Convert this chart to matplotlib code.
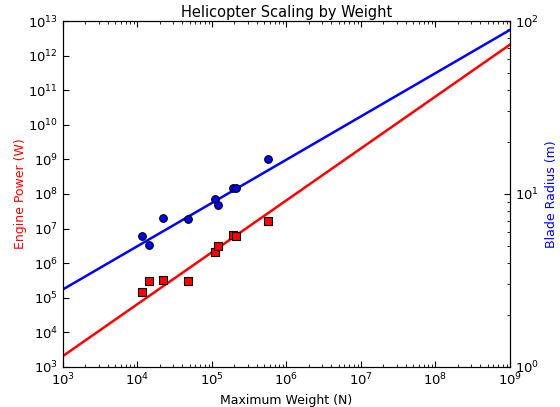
import numpy as np
import matplotlib
matplotlib.use('Agg')
import matplotlib.pyplot as plt
from matplotlib.ticker import LogLocator, NullFormatter

# helicopter data
weight = [1.16e4, 1.44e4, 2.18e4, 4.8e4, 1.1e5, 1.2e5, 1.9e5, 2.1e5, 5.65e5]
power = [1.44e5, 3.0e5, 3.2e5, 3.0e5, 2.15e6, 3.14e6, 6.7e6, 6.1e6, 1.66e7]
radius = [5.7, 5.05, 7.26, 7.2, 9.4, 8.6, 10.9, 10.9, 15.9]

# scaling laws: value = coef * (W / 1e3) ** exponent
power_coef, power_exp = 2.08e3, 1.5
radius_coef, radius_exp = 2.81, 0.25

plt.rcParams['font.family'] = 'DejaVu Sans'
plt.rcParams['mathtext.default'] = 'regular'

fig = plt.figure(figsize=(5.6, 4.07), dpi=100)
ax = fig.add_axes([0.1125, 0.0983, 0.7982, 0.8501])
ax2 = ax.twinx()

w_line = np.logspace(3, 9, 50)
ax.plot(w_line, power_coef * (w_line / 1e3) ** power_exp, color='red', lw=1.8)
ax.plot(weight, power, 's', color='red', mec='black', mew=0.8, ms=5.5)

ax2.plot(w_line, radius_coef * (w_line / 1e3) ** radius_exp, color='blue', lw=1.8)
ax2.plot(weight, radius, 'o', color='blue', mec='black', mew=0.8, ms=5.5)

ax.set_xscale('log')
ax.set_yscale('log')
ax2.set_yscale('log')
ax.set_xlim(1e3, 1e9)
ax.set_ylim(1e3, 1e13)
ax2.set_ylim(1, 100)

ax.yaxis.set_major_locator(LogLocator(base=10, numticks=20))
ax.yaxis.set_minor_locator(LogLocator(base=10, subs=[], numticks=20))
ax.xaxis.set_minor_locator(LogLocator(base=10, subs=np.arange(2, 10), numticks=20))
ax.xaxis.set_minor_formatter(NullFormatter())

ax.tick_params(axis='x', which='both', direction='in', top=True, labelsize=9.5)
ax.tick_params(axis='y', which='both', direction='in', right=False, labelsize=9.5)
ax2.tick_params(axis='y', which='both', direction='in', labelsize=9.5)
for a in (ax, ax2):
    a.tick_params(which='major', length=4)
    a.tick_params(which='minor', length=2)

ax.set_title('Helicopter Scaling by Weight', fontsize=10.5, pad=3)
ax.set_xlabel('Maximum Weight (N)', fontsize=9)
ax.set_ylabel('Engine Power (W)', color='red', fontsize=9, labelpad=1)
ax2.set_ylabel('Blade Radius (m)', color='blue', fontsize=9)

fig.savefig('out.png', dpi=100)
